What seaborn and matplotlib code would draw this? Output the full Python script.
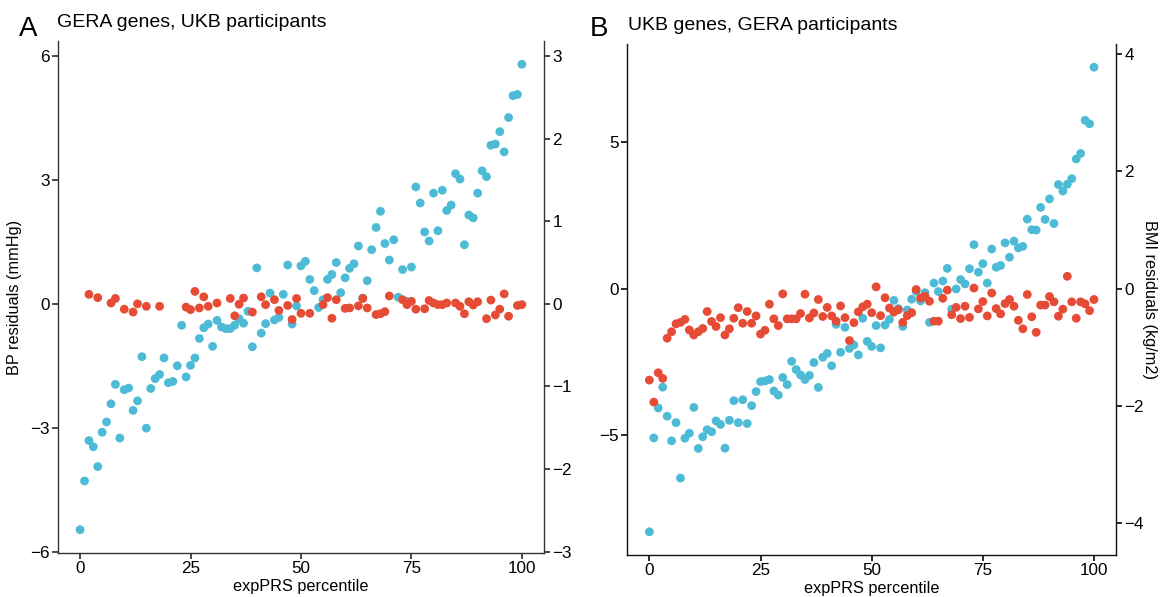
import numpy as np
import pandas as pd
import matplotlib
matplotlib.use("Agg")
import matplotlib.pyplot as plt
import seaborn as sns

nan = np.nan
percentile = list(range(101))

# Panel A: GERA genes, UKB participants (BP residuals, mmHg)
a_blue = [-5.47, -4.29, -3.31, -3.46, -3.94, -3.11, -2.86, -2.42, -1.95, -3.25,
          -2.08, -2.04, -2.58, -2.35, -1.28, -3.01, -2.05, -1.81, -1.71, -1.31,
          -1.91, -1.88, -1.50, -0.52, -1.77, -1.49, -1.31, -0.84, -0.58, -0.49,
          -1.03, -0.40, -0.56, -0.60, -0.60, -0.52, -0.36, -0.47, -0.18, -1.04,
          0.87, -0.71, -0.48, 0.26, -0.39, -0.33, 0.23, 0.94, -0.49, -0.05,
          0.92, 1.03, 0.59, 0.32, -0.09, 0.10, 0.59, 0.71, 1.00, 0.27,
          0.63, 0.86, 0.97, 1.40, 0.14, 0.56, 1.31, 1.85, 2.24, 1.46,
          1.06, 1.55, 0.16, 0.83, 0.06, 0.89, 2.83, 2.44, 1.74, 1.52,
          2.68, 1.77, 2.75, 2.26, 2.39, 3.15, 3.02, 1.43, 2.15, 2.08,
          2.68, 3.22, 3.08, 3.84, 3.87, 4.17, 3.68, 4.51, 5.04, 5.07,
          5.80]
a_red = [nan, nan, 0.23, nan, 0.15, nan, nan, 0.02, 0.13, nan,
         -0.13, nan, -0.20, 0.00, nan, -0.06, nan, nan, -0.06, nan,
         nan, nan, nan, nan, -0.08, -0.14, 0.30, -0.10, 0.17, -0.06,
         nan, 0.02, nan, nan, 0.13, -0.29, -0.01, 0.14, nan, -0.20,
         nan, 0.17, -0.02, nan, 0.10, -0.16, nan, -0.04, -0.38, 0.13,
         -0.23, nan, -0.23, nan, nan, -0.02, 0.15, -0.35, 0.10, nan,
         -0.11, -0.10, nan, -0.05, 0.13, -0.10, nan, -0.26, -0.24, -0.19,
         0.19, nan, nan, 0.10, -0.02, 0.06, -0.13, nan, -0.12, 0.08,
         0.02, -0.02, -0.02, 0.02, nan, 0.02, -0.06, -0.24, 0.05, -0.03,
         0.05, nan, -0.36, 0.09, -0.27, -0.13, 0.24, -0.30, nan, -0.04,
         -0.02]

# Panel B: UKB genes, GERA participants (BMI residuals)
b_blue = [-8.29, -5.09, -4.07, -3.36, -4.35, -5.19, -4.57, -6.46, -5.10, -4.93,
          -4.05, -5.45, -5.05, -4.81, -4.88, -4.51, -4.63, -5.44, -4.49, -3.82,
          -4.57, -3.79, -4.60, -3.99, -3.51, -3.17, -3.15, -3.10, -3.49, -3.63,
          -3.03, -3.27, -2.48, -2.76, -2.94, -3.10, -2.96, -2.52, -3.37, -2.34,
          -2.21, -2.63, -1.22, -2.17, -1.32, -2.04, -1.92, -2.26, -1.01, -1.80,
          -1.97, -1.26, -2.02, -1.24, -1.05, -0.40, -0.68, -1.29, -0.73, -0.36,
          -0.09, -0.42, -0.14, -1.15, 0.19, -0.10, 0.26, 0.69, -0.70, -0.01,
          0.31, 0.16, 0.68, 1.50, 0.56, 0.85, 0.19, 1.35, 0.73, 0.79,
          1.56, 1.07, 1.62, 1.39, 1.44, 2.37, 2.01, 2.00, 2.77, 2.36,
          3.06, 2.22, 3.55, 3.33, 3.56, 3.75, 4.42, 4.61, 5.74, 5.62,
          7.55]
b_red = [-3.12, -3.87, -2.87, -3.06, -1.69, -1.47, -1.20, -1.15, -1.05, -1.41,
         -1.58, -1.47, -1.36, -0.78, -1.12, -1.29, -0.99, -1.58, -1.37, -1.01,
         -0.65, -1.18, -0.78, -1.18, -0.93, -1.55, -1.42, -0.53, -1.03, -1.26,
         -0.18, -1.03, -1.03, -1.03, -0.85, -0.19, -1.00, -0.83, -0.37, -0.95,
         -0.64, -0.93, -1.11, -0.59, -0.99, -1.77, -1.16, -0.79, -0.62, -0.53,
         -0.82, 0.06, -0.92, -0.31, -0.66, -0.80, -0.72, -1.15, -0.92, -0.82,
         -0.03, -0.32, -0.26, -0.43, -1.11, -1.11, -0.33, -0.05, -0.89, -0.64,
         -1.02, -0.60, -0.98, 0.02, -0.69, -0.44, -0.93, -0.15, -0.68, -0.86,
         -0.51, -0.37, -0.60, -1.08, -1.37, -0.20, -0.96, -1.49, -0.56, -0.56,
         -0.27, -0.45, -0.94, -0.70, 0.42, -0.45, -1.01, -0.45, -0.52, -0.75,
         -0.37]

a_left_ticks = [-6, -3, 0, 3, 6]
a_right_ticks = [-3, -2, -1, 0, 1, 2, 3]
b_left_ticks = [-5, 0, 5]
b_right_ticks = [-4, -2, 0, 2, 4]
x_ticks = [0, 25, 50, 75, 100]

BLUE = "#4DBBD5"
RED = "#E64B35"

sns.set_theme(style="ticks")
plt.rcParams["font.family"] = ["Liberation Sans", "DejaVu Sans"]
plt.rcParams["text.color"] = "black"
plt.rcParams["axes.labelcolor"] = "black"
plt.rcParams["axes.linewidth"] = 1.0
plt.rcParams["xtick.labelcolor"] = "black"
plt.rcParams["ytick.labelcolor"] = "black"
plt.rcParams["xtick.major.size"] = 4
plt.rcParams["ytick.major.size"] = 4

fig = plt.figure(figsize=(11.62, 5.97), dpi=100)
axA = fig.add_axes([0.0499, 0.0737, 0.4182, 0.8576])
axB = fig.add_axes([0.5397, 0.0704, 0.4209, 0.8559])


def long_df(blue, red):
    d1 = pd.DataFrame({"pct": percentile, "val": blue, "series": "blue"})
    d2 = pd.DataFrame({"pct": percentile, "val": red, "series": "red"})
    return pd.concat([d1, d2], ignore_index=True).dropna()


def fmt(ticks):
    return [str(t).replace("-", "\u2212") for t in ticks]


def draw(ax, blue, red, lticks, rticks, xlabel, edge):
    df = long_df(blue, red)
    sns.scatterplot(data=df, x="pct", y="val", hue="series",
                    hue_order=["blue", "red"],
                    palette={"blue": BLUE, "red": RED},
                    s=40, linewidth=0, alpha=1, legend=False, ax=ax)
    vals = df["val"].values
    lo, hi = vals.min(), vals.max()
    pad = 0.05 * (hi - lo)
    ax.set_ylim(lo - pad, hi + pad)
    ax.set_xlim(-5, 105)
    ax.set_xticks(x_ticks)
    ax.set_yticks(lticks)
    ax.set_yticklabels(fmt(lticks))
    ax.tick_params(labelsize=12.3, pad=2, color=edge)
    ax.set_xlabel(xlabel, fontsize=11.7, labelpad=2)
    ax.set_ylabel("")
    for s in ["top", "right"]:
        ax.spines[s].set_visible(False)
    for s in ["left", "bottom"]:
        ax.spines[s].set_color(edge)
    tw = ax.twinx()
    tw.set_ylim((lo - pad) / 2, (hi + pad) / 2)
    tw.set_yticks(rticks)
    tw.set_yticklabels(fmt(rticks))
    tw.tick_params(labelsize=12.3, pad=2, color=edge)
    for s in ["top", "left", "bottom"]:
        tw.spines[s].set_visible(False)
    tw.spines["right"].set_color(edge)
    tw.grid(False)
    return tw


twA = draw(axA, a_blue, a_red, a_left_ticks, a_right_ticks, "expPRS percentile", "#333333")
twB = draw(axB, b_blue, b_red, b_left_ticks, b_right_ticks, "expPRS percentile", "#111111")

axA.set_ylabel("BP residuals (mmHg)", fontsize=11.7, labelpad=6)
twB.set_ylabel("BMI residuals (kg/m2)", fontsize=11.7, rotation=270, labelpad=9)

fig.text(0.024, 0.952, "A", fontsize=20, ha="center", va="center")
fig.text(0.049, 0.963, "GERA genes, UKB participants", fontsize=14, ha="left", va="center")
fig.text(0.5155, 0.952, "B", fontsize=20, ha="center", va="center")
fig.text(0.5405, 0.957, "UKB genes, GERA participants", fontsize=14, ha="left", va="center")

fig.savefig("out.png", dpi=100)
